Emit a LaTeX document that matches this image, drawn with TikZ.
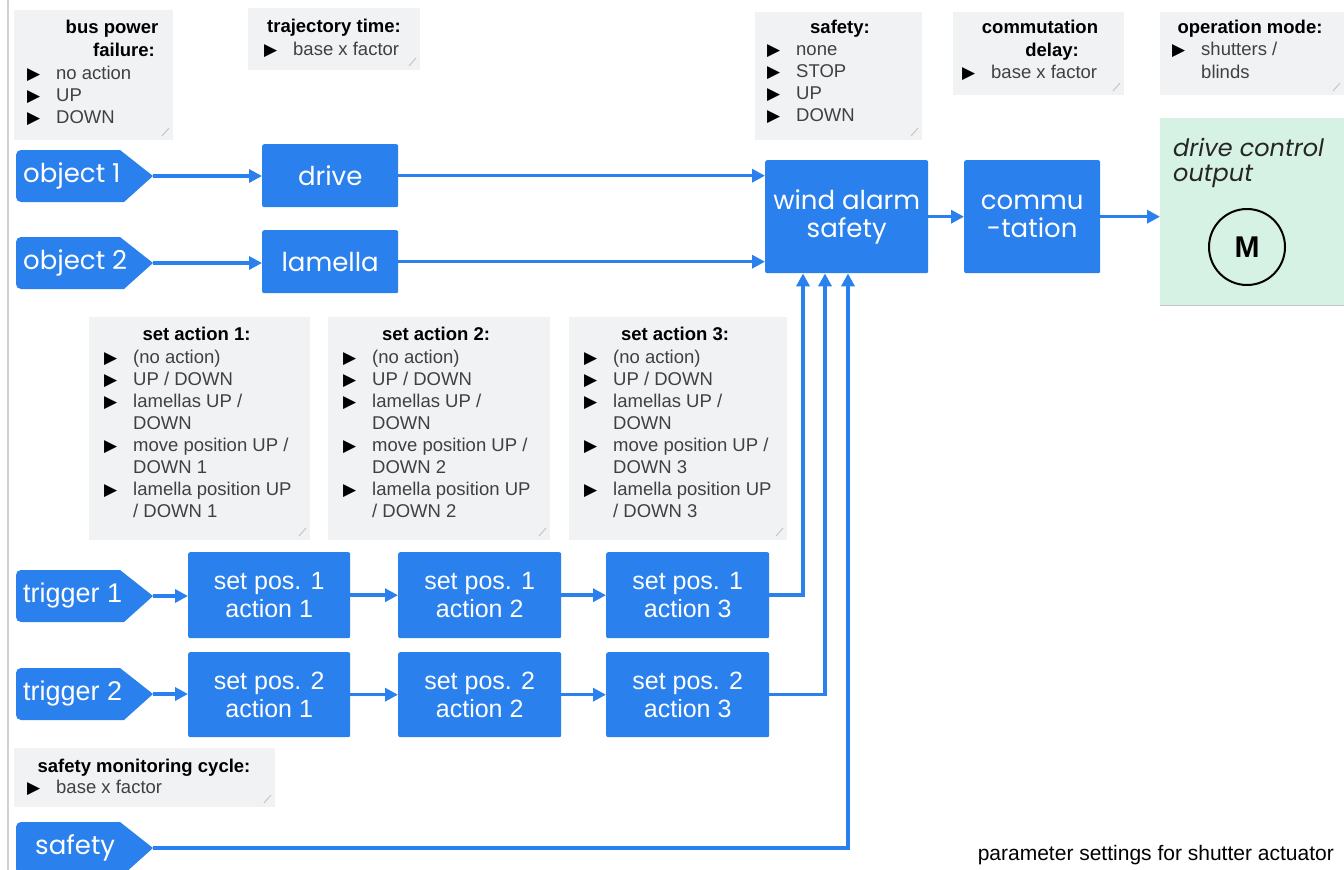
\documentclass[tikz,border=0pt]{standalone}
\usepackage{fontspec}
\setmainfont{Liberation Sans}
\newfontfamily\geo{Poppins}
\newfontfamily\notefont{Liberation Sans}
\newfontfamily\symfont{DejaVu Sans}
\usetikzlibrary{arrows.meta}
\definecolor{bx}{RGB}{42,128,236}
\definecolor{notebg}{RGB}{241,242,243}
\definecolor{mint}{RGB}{214,242,228}
\definecolor{txtgray}{RGB}{64,64,64}
\newcommand{\mybul}{\makebox[29pt][l]{\color{black}\symfont\fontsize{17}{17}\selectfont ▶}}
\newcommand{\myind}{\hspace*{29pt}}
\newcommand{\notebox}[4]{\fill[notebg] (#1,#2) rectangle (#3,#4);
  \draw[gray!45, line width=1pt] (#3-11,#4-4) -- (#3-4,#4-12);}
\newcommand{\mytag}[5]{% name, top y, text x, font, text
  \fill[bx] (153,#2+26) -- (124,#2+52) {[rounded corners=5pt] -- (16,#2+52) -- (16,#2)} -- (120,#2) -- cycle;
  \node[anchor=west, inner sep=0pt, text=white, font=#4] (#1) at (#3,#2+26) {#5};
  \coordinate (#1tip) at (153,#2+26);}
\begin{document}
\begin{tikzpicture}[x=1pt,y=-1pt,
  blk/.style={fill=bx, text=white, rounded corners=2pt, inner sep=0pt, align=center,
    anchor=north west, font=\geo\fontsize{26}{28}\selectfont},
  spx/.style={blk, font=\notefont\fontsize{25}{28}\selectfont},
  arr/.style={draw=bx, line width=3.5pt, -{Triangle[length=13pt,width=13pt]}},
  ttl/.style={font=\notefont\bfseries\fontsize{18.5}{22}\selectfont, text=black, inner sep=0pt, anchor=base},
  itm/.style={font=\notefont\fontsize{18.5}{22}\selectfont, text=txtgray, inner sep=0pt, anchor=base west}
]
\useasboundingbox (0,0) rectangle (1344,870);
\fill[white] (0,0) rectangle (1344,870);
\draw[gray!35, line width=1.5pt] (8,0) -- (8,870);

% ---- notes ----
\notebox{14}{10}{173}{140}
\node[ttl] (bpf-t1) at (112,33) {bus power};
\node[ttl] (bpf-t2) at (124,56) {failure:};
\foreach \t [count=\i from 0] in {{\mybul no action},{\mybul UP},{\mybul DOWN}}
  \node[itm] (bpf-\i) at (27,79+22.3*\i) {\t};

\notebox{248}{8}{420}{70}
\node[ttl] (tt-t) at (334,32) {trajectory time:};
\node[itm] (tt-0) at (264,55) {\mybul base x factor};

\notebox{755}{12}{922}{140}
\node[ttl] (sf-t) at (840,33) {safety:};
\foreach \t [count=\i from 0] in {{\mybul none},{\mybul STOP},{\mybul UP},{\mybul DOWN}}
  \node[itm] (sf-\i) at (767,55+22.3*\i) {\t};

\notebox{953}{12}{1124}{95}
\node[ttl] (cd-t1) at (1040,33) {commutation};
\node[ttl] (cd-t2) at (1052,56) {delay:};
\node[itm] (cd-0) at (962,78) {\mybul base x factor};

\notebox{1160}{12}{1344}{95}
\node[ttl] (om-t) at (1250,33) {operation mode:};
\node[itm] (om-0) at (1172,55) {\mybul shutters /};
\node[itm] (om-1) at (1172,78) {\myind blinds};

\foreach \l/\r/\k in {89/310/1, 328/550/2, 569/787/3} {
  \notebox{\l}{317}{\r}{540}
  \node[ttl] (sa\k-t) at ({(\l+\r)/2-3},340) {set action \k:};
  \foreach \t [count=\i from 0] in {{\mybul (no action)},{\mybul UP / DOWN},{\mybul lamellas UP /},{\myind DOWN},{\mybul move position UP /},{\myind DOWN \k},{\mybul lamella position UP},{\myind / DOWN \k}}
    \node[itm] (sa\k-\i) at (\l+15,363+22.1*\i) {\t};
}

\notebox{14}{748}{275}{807}
\node[ttl] (smc-t) at (144,772) {safety monitoring cycle:};
\node[itm] (smc-0) at (27,793) {\mybul base x factor};

% ---- tags ----
\mytag{obj1}{150}{23}{\geo\fontsize{26}{28}\selectfont}{object 1}
\mytag{obj2}{237}{23}{\geo\fontsize{26}{28}\selectfont}{object 2}
\mytag{trg1}{570}{23}{\notefont\fontsize{27}{28}\selectfont}{trigger 1}
\mytag{trg2}{668}{23}{\notefont\fontsize{27}{28}\selectfont}{trigger 2}
\mytag{sft}{822}{35}{\geo\fontsize{26}{28}\selectfont}{safety}

% ---- blocks ----
\node[blk, minimum width=136, minimum height=63] (drive) at (262,144) {drive};
\node[blk, minimum width=136, minimum height=63] (lam) at (262,230) {lamella};
\node[blk, minimum width=163, minimum height=113] (wind) at (765,160) {wind alarm\\safety};
\node[blk, minimum width=136, minimum height=113] (comm) at (964,160) {commu\\-tation};

\node[spx, minimum width=162, minimum height=86] (sp11) at (188,552) {set pos. 1\\action 1};
\node[spx, minimum width=163, minimum height=86] (sp12) at (398,552) {set pos. 1\\action 2};
\node[spx, minimum width=163, minimum height=86] (sp13) at (606,552) {set pos. 1\\action 3};
\node[spx, minimum width=162, minimum height=85] (sp21) at (188,652) {set pos. 2\\action 1};
\node[spx, minimum width=163, minimum height=85] (sp22) at (398,652) {set pos. 2\\action 2};
\node[spx, minimum width=163, minimum height=85] (sp23) at (606,652) {set pos. 2\\action 3};

% ---- output ----
\node[fill=mint, minimum width=184, minimum height=187, anchor=north west, inner sep=0pt] (out) at (1160,118) {};
\draw[gray!45, line width=1.2pt] (out.south west) -- (out.south east);
\node[anchor=base west, inner sep=0pt, text=black!85, font=\geo\itshape\fontsize{24}{26}\selectfont] (dc1) at (1173,156) {drive control};
\node[anchor=base west, inner sep=0pt, text=black!85, font=\geo\itshape\fontsize{24}{26}\selectfont] (dc2) at (1173,181) {output};
\node[circle, draw=black, line width=2pt, minimum size=76, inner sep=0pt, font=\bfseries\fontsize{30}{30}\selectfont] (motor) at (1247,247) {M};

% ---- connectors ----
\draw[arr] (obj1tip) -- (obj1tip -| drive.west);
\draw[arr] (obj2tip) -- (obj2tip -| lam.west);
\draw[arr] (drive.east) -- (drive.east -| wind.west);
\draw[arr] (lam.east) -- (lam.east -| wind.west);
\draw[arr] (wind.east) -- (comm.west);
\draw[arr] (comm.east) -- (comm.east -| out.west);
\draw[arr] (trg1tip) -- (trg1tip -| sp11.west);
\draw[arr] (sp11.east) -- (sp12.west);
\draw[arr] (sp12.east) -- (sp13.west);
\draw[arr] (trg2tip) -- (trg2tip -| sp21.west);
\draw[arr] (sp21.east) -- (sp22.west);
\draw[arr] (sp22.east) -- (sp23.west);
\draw[arr] (sp13.east) -| ([xshift=38pt]wind.south west);
\draw[arr] (sp23.east) -| ([xshift=60pt]wind.south west);
\draw[arr] (sfttip) -| ([xshift=83pt]wind.south west);

% ---- caption ----
\node[anchor=base east, inner sep=0pt, font=\fontsize{21}{24}\selectfont] (cap) at (1334,860) {parameter settings for shutter actuator};
\end{tikzpicture}
\end{document}
